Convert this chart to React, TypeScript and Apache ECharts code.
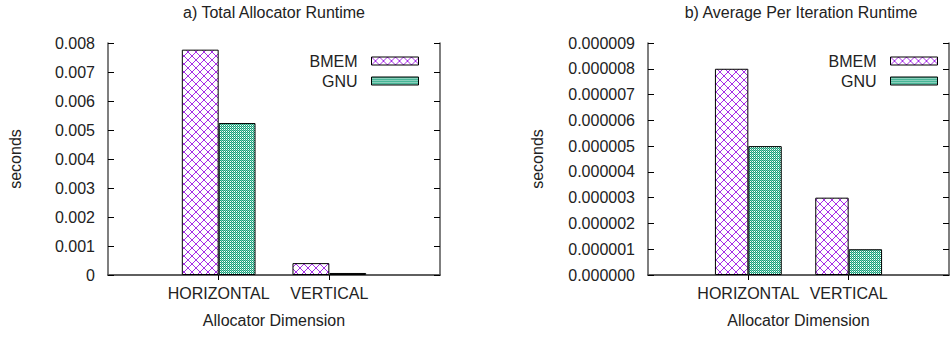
import React, { useEffect, useRef } from "react";
import * as echarts from "echarts";

// ---- data ----
const categories = ["", "HORIZONTAL", "VERTICAL", ""];
const seriesNames = ["BMEM", "GNU"];
const totalBMEM: (number | string)[] = ["-", 0.00777, 0.00041, "-"];
const totalGNU: (number | string)[] = ["-", 0.00524, 0.00007, "-"];
const avgBMEM: (number | string)[] = ["-", 0.000008, 0.000003, "-"];
const avgGNU: (number | string)[] = ["-", 0.000005, 0.000001, "-"];
const titles = ["a) Total Allocator Runtime", "b) Average Per Iteration Runtime"];
const yMax = [0.008, 0.000009];
const yStep = [0.001, 0.000001];
const yDecimals = [3, 6];
const yName = "seconds";
const xName = "Allocator Dimension";

const FONT = "'Liberation Sans', Arial, sans-serif";
const TXT = "#222";
const AXIS = "#555";

function makeCrossTile(): string {
  const c = document.createElement("canvas");
  c.width = 8;
  c.height = 8;
  const ctx = c.getContext("2d")!;
  ctx.fillStyle = "#ffffff";
  ctx.fillRect(0, 0, 8, 8);
  ctx.fillStyle = "#a62ee6";
  for (let i = 0; i < 8; i++) {
    ctx.fillRect(i, i, 1, 1);
    ctx.fillRect(i, 7 - i, 1, 1);
  }
  return c.toDataURL();
}

function makeDotTile(): string {
  const c = document.createElement("canvas");
  c.width = 2;
  c.height = 2;
  const ctx = c.getContext("2d")!;
  ctx.fillStyle = "#14a079";
  ctx.fillRect(0, 0, 1, 1);
  ctx.fillRect(1, 1, 1, 1);
  ctx.fillStyle = "#7cccb4";
  ctx.fillRect(1, 0, 1, 1);
  ctx.fillStyle = "#ffffff";
  ctx.fillRect(0, 1, 1, 1);
  return c.toDataURL();
}

export default function App() {
  const ref = useRef<HTMLDivElement>(null);
  useEffect(() => {
    if (!ref.current) return;
    const chart = echarts.init(ref.current, undefined, { renderer: "svg" });
    const crossUrl = makeCrossTile();
    const dotUrl = makeDotTile();
    const patterns = [
      () => ({ image: crossUrl, repeat: "repeat", imageWidth: 8, imageHeight: 8 }),
      () => ({ image: dotUrl, repeat: "repeat", imageWidth: 2, imageHeight: 2 }),
    ];
    const grids = [
      { left: 108, right: 512, top: 43, bottom: 64 },
      { left: 648, right: -5, top: 43, bottom: 64 },
    ];
    const centers = [274, 801];
    const yNameGaps = [85, 103];
    const data = [
      [totalBMEM, totalGNU],
      [avgBMEM, avgGNU],
    ];

    const xAxis: any[] = [];
    const yAxis: any[] = [];
    const series: any[] = [];
    grids.forEach((_, g) => {
      xAxis.push({
        gridIndex: g,
        type: "category",
        data: categories,
        boundaryGap: false,
        position: "bottom",
        axisLine: { show: true, lineStyle: { color: AXIS, width: 1.5 } },
        axisTick: { show: false },
        axisLabel: { interval: 0, fontSize: 16, color: TXT, fontFamily: FONT, margin: 10 },
        name: xName,
        nameLocation: "middle",
        nameGap: 37,
        nameTextStyle: { fontSize: 16, color: TXT, fontFamily: FONT },
      });
      xAxis.push({
        gridIndex: g,
        type: "category",
        data: categories,
        boundaryGap: false,
        position: "top",
        axisLine: { show: true, lineStyle: { color: AXIS, width: 1.5 } },
        axisTick: {
          show: true,
          inside: true,
          length: 5,
          interval: (i: number) => i === 1 || i === 2,
          lineStyle: { color: "#000" },
        },
        axisLabel: { show: false },
      });
      const fmt = (v: number) => (v === 0 && g === 0 ? "0" : v.toFixed(yDecimals[g]));
      yAxis.push({
        gridIndex: g,
        type: "value",
        position: "left",
        min: 0,
        max: yMax[g],
        interval: yStep[g],
        splitLine: { show: false },
        axisLine: { show: true, lineStyle: { color: AXIS, width: 1.5 } },
        axisTick: { show: true, inside: true, length: 6, lineStyle: { color: "#000" } },
        axisLabel: { fontSize: 16, color: TXT, fontFamily: FONT, margin: 13, formatter: fmt },
        name: yName,
        nameLocation: "middle",
        nameRotate: 90,
        nameGap: yNameGaps[g],
        nameTextStyle: { fontSize: 16, color: TXT, fontFamily: FONT },
      });
      yAxis.push({
        gridIndex: g,
        type: "value",
        position: "right",
        min: 0,
        max: yMax[g],
        interval: yStep[g],
        splitLine: { show: false },
        axisLine: { show: true, lineStyle: { color: AXIS, width: 1.5 } },
        axisTick: { show: true, inside: true, length: 6, lineStyle: { color: "#000" } },
        axisLabel: { show: false },
      });
      seriesNames.forEach((name, s) => {
        series.push({
          type: "bar",
          name,
          xAxisIndex: g * 2,
          yAxisIndex: g * 2,
          data: data[g][s],
          barWidth: "33.3%",
          barGap: "0%",
          itemStyle: { color: patterns[s](), borderColor: "#000", borderWidth: 1 },
          emphasis: { disabled: true },
        });
      });
    });

    chart.setOption({
      animation: false,
      backgroundColor: "#fff",
      textStyle: { fontFamily: FONT },
      title: titles.map((t, g) => ({
        text: t,
        left: centers[g],
        textAlign: "center",
        top: 4,
        padding: 0,
        textStyle: { fontSize: 16, fontWeight: "normal", color: TXT, fontFamily: FONT },
      })),
      legend: [533, 14].map((r) => ({
        data: seriesNames.map((n, s) => ({
          name: n,
          itemStyle: { color: patterns[s](), borderColor: "#000", borderWidth: 1 },
        })),
        orient: "vertical",
        align: "right",
        right: r,
        top: 53,
        padding: 0,
        icon: "rect",
        itemWidth: 47,
        itemHeight: 8,
        itemGap: 4,
        textStyle: {
          fontSize: 16,
          color: TXT,
          fontFamily: FONT,
          lineHeight: 16,
          padding: [0, 9, 0, 0],
        },
      })),
      grid: grids,
      xAxis,
      yAxis,
      series,
    });
    return () => chart.dispose();
  }, []);
  return (
    <div
      ref={ref}
      style={{ position: "fixed", left: 0, top: 0, width: 952, height: 339 }}
    />
  );
}
